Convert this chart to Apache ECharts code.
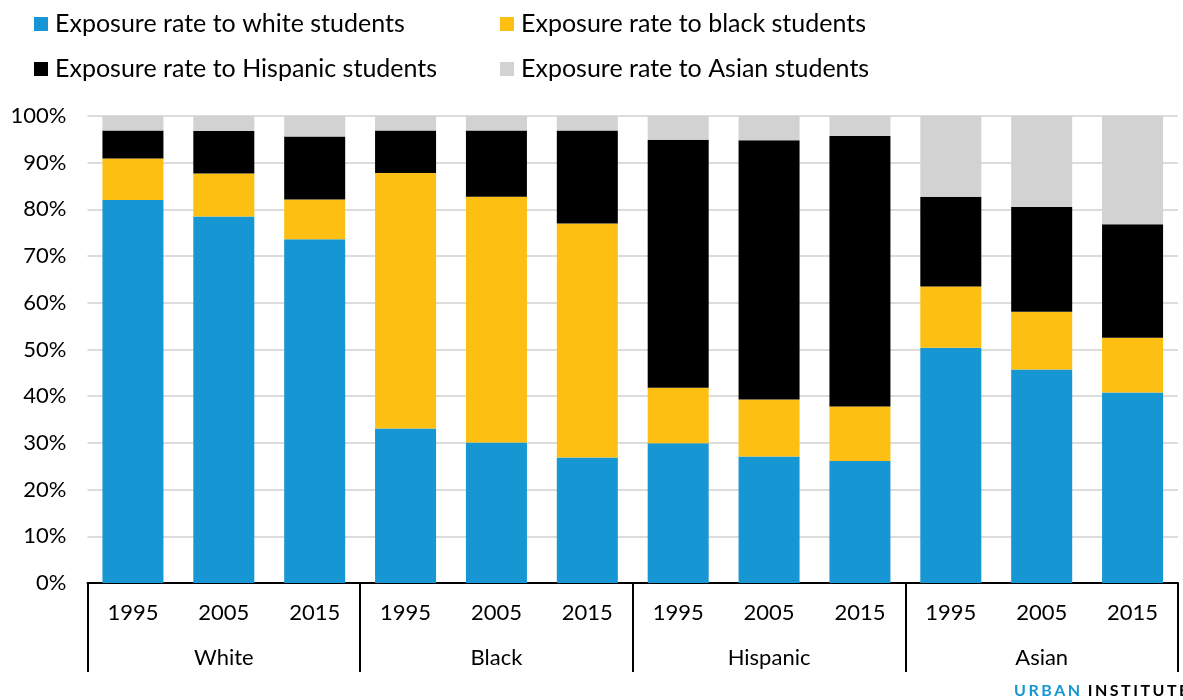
<!DOCTYPE html>
<html>
<head>
<meta charset="utf-8">
<script src="https://cdn.jsdelivr.net/npm/echarts@6/dist/echarts.min.js"></script>
<style>
  html, body { margin: 0; padding: 0; background: #fff; overflow: hidden; }
  #chart { width: 1183px; height: 700px; }
</style>
</head>
<body>
<div id="chart"></div>
<script>
// Exposure rates of students by race/ethnicity, 1995-2015 (percent)
const groups = ['White', 'Black', 'Hispanic', 'Asian'];
const years = ['1995', '2005', '2015'];
const categories = groups.flatMap(() => years);

const seriesNames = [
  'Exposure rate to white students',
  'Exposure rate to black students',
  'Exposure rate to Hispanic students',
  'Exposure rate to Asian students'
];

// order: White 1995/2005/2015, Black ..., Hispanic ..., Asian ...
const whiteExposure    = [82.0, 78.5, 73.6, 33.1, 30.1, 26.9, 29.9, 27.1, 26.1, 50.4, 45.7, 40.8];
const blackExposure    = [ 8.9,  9.2,  8.5, 54.7, 52.6, 50.1, 11.9, 12.2, 11.7, 13.1, 12.4, 11.7];
const hispanicExposure = [ 6.0,  9.1, 13.5,  9.1, 14.2, 19.9, 53.1, 55.5, 57.9, 19.2, 22.4, 24.3];
const asianExposure    = [ 3.1,  3.2,  4.4,  3.1,  3.1,  3.1,  5.1,  5.2,  4.3, 17.3, 19.5, 23.2];

const yTicks = { min: 0, max: 100, interval: 10 };

const colors = ['#1696d2', '#fdbf11', '#000000', '#d2d2d2'];
const seriesData = [whiteExposure, blackExposure, hispanicExposure, asianExposure];

const FONT = 'Lato, "Noto Sans", sans-serif';

const chart = echarts.init(document.getElementById('chart'), null, { renderer: 'canvas' });

const legendPos = [
  { left: 34, top: 10 },
  { left: 500, top: 10 },
  { left: 34, top: 55 },
  { left: 500, top: 55 }
];

// letter-spaced wordmark built from one rich-text segment per letter
function spaced(word, styleName) {
  return word.split('').map(ch => '{' + styleName + '|' + ch + '}').join('');
}
const markText = spaced('URBAN', 'a') + '{g| }' + spaced('INSTITUTE', 'b');

chart.setOption({
  animation: false,
  backgroundColor: '#ffffff',
  color: colors,
  textStyle: { fontFamily: FONT },
  legend: seriesNames.map((name, i) => ({
    data: [name],
    left: legendPos[i].left,
    top: legendPos[i].top,
    padding: 0,
    icon: 'rect',
    itemWidth: 14,
    itemHeight: 14,
    selectedMode: false,
    textStyle: {
      fontFamily: FONT,
      fontSize: 25,
      lineHeight: 28,
      color: '#000',
      padding: [0, 0, 0, 2]
    }
  })),
  grid: { left: 87.5, right: 5, top: 116, bottom: 117, containLabel: false },
  xAxis: [
    {
      type: 'category',
      data: categories,
      position: 'bottom',
      axisLine: { show: true, lineStyle: { color: '#000', width: 2 } },
      axisTick: { show: false },
      axisLabel: { color: '#000', fontFamily: FONT, fontSize: 22, margin: 19, interval: 0 },
      splitLine: { show: false }
    },
    {
      type: 'category',
      data: groups,
      position: 'bottom',
      offset: 0,
      axisLine: { show: false },
      axisTick: { show: true, length: 89, lineStyle: { color: '#000', width: 2 } },
      axisLabel: { color: '#000', fontFamily: FONT, fontSize: 22, margin: 64, interval: 0 },
      splitLine: { show: false }
    }
  ],
  yAxis: {
    type: 'value',
    min: yTicks.min,
    max: yTicks.max,
    interval: yTicks.interval,
    axisLine: { show: false },
    axisTick: { show: false },
    axisLabel: { color: '#000', fontFamily: FONT, fontSize: 22, margin: 21, formatter: '{value}%' },
    splitLine: { show: true, lineStyle: { color: '#dcdcdc', width: 2 } }
  },
  series: seriesNames.map((name, i) => ({
    name: name,
    type: 'bar',
    stack: 'total',
    xAxisIndex: 0,
    barWidth: 61,
    data: seriesData[i],
    itemStyle: { color: colors[i] },
    emphasis: { disabled: true }
  })),
  graphic: [
    {
      type: 'text',
      left: 1014,
      top: 683,
      style: {
        text: markText,
        rich: {
          a: { fontFamily: FONT, fontWeight: 'bold', fontSize: 16, fill: '#1696d2', padding: [0, 2.5, 0, 0] },
          b: { fontFamily: FONT, fontWeight: 'bold', fontSize: 16, fill: '#000', padding: [0, 2.5, 0, 0] },
          g: { fontFamily: FONT, fontSize: 16, padding: [0, 1, 0, 0] }
        }
      }
    }
  ]
});
</script>
</body>
</html>
